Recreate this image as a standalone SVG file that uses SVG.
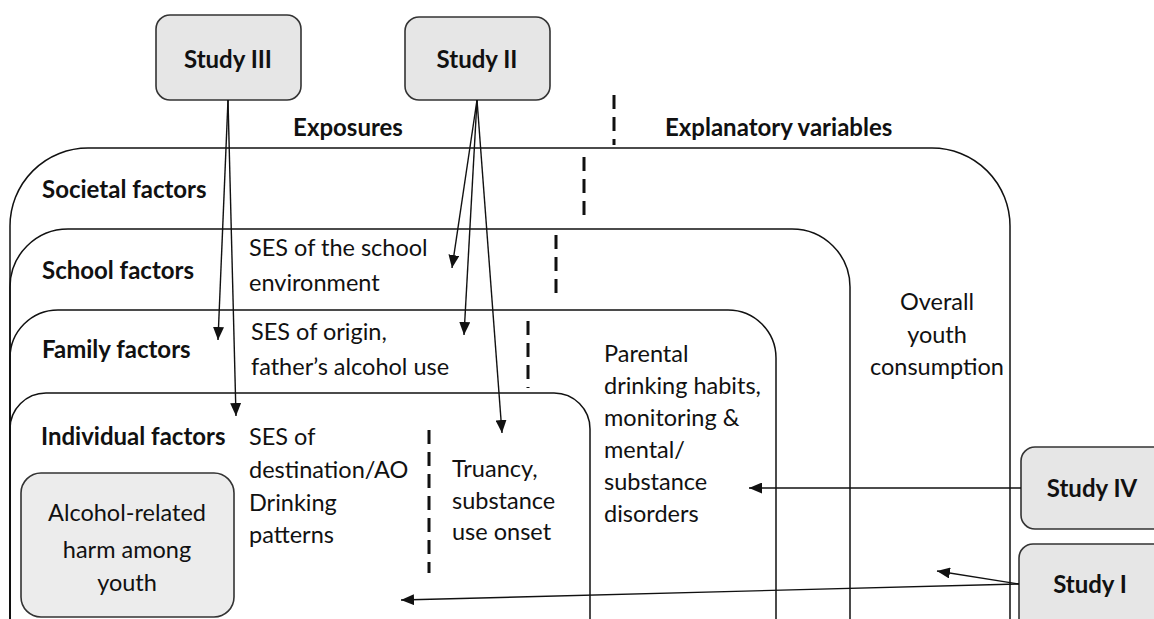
<svg xmlns="http://www.w3.org/2000/svg" width="1154" height="619" viewBox="0 0 1154 619">
<style>
text{font-family:Lato,"Open Sans","Liberation Sans",sans-serif;fill:#111;font-size:23.5px}
.b{font-weight:bold;font-size:24px}
.m{text-anchor:middle}
.frame{fill:none;stroke:#111;stroke-width:1.5}
.study{fill:#e6e6e6;stroke:#333;stroke-width:1.6}
.dash{stroke:#111;stroke-width:3;stroke-dasharray:14 8;fill:none}
.conn{stroke:#111;stroke-width:1.4;fill:none;marker-end:url(#ah)}
</style>
<defs>
<marker id="ah" markerUnits="userSpaceOnUse" markerWidth="13" markerHeight="11" refX="13" refY="5.5" orient="auto">
<path d="M0,0 L13,5.5 L0,11 z" fill="#111"/>
</marker>
</defs>
<rect width="1154" height="619" fill="#fff"/>

<g id="societal">
<path class="frame" d="M10,640 V226 A78,78 0 0 1 88,148 H932 A78,78 0 0 1 1010,226 V640"/>
<text class="b" x="42" y="198">Societal factors</text>
</g>
<g id="school">
<path class="frame" d="M10,640 V287 A58,58 0 0 1 68,229 H792 A58,58 0 0 1 850,287 V640"/>
<text class="b" x="42" y="279">School factors</text>
<text x="249" y="256">SES of the school</text>
<text x="249" y="291">environment</text>
</g>
<g id="family">
<path class="frame" d="M10,640 V358 A48,48 0 0 1 58,310 H728 A48,48 0 0 1 776,358 V640"/>
<text class="b" x="42" y="358">Family factors</text>
<text x="251" y="340">SES of origin,</text>
<text x="251" y="375">father’s alcohol use</text>
</g>
<g id="individual">
<path class="frame" d="M10,640 V429 A36,36 0 0 1 46,393 H554 A36,36 0 0 1 590,429 V640"/>
<text class="b" x="41" y="445">Individual factors</text>
<text x="249" y="445">SES of</text>
<text x="249" y="478">destination/AO</text>
<text x="249" y="511">Drinking</text>
<text x="249" y="543">patterns</text>
<text x="452" y="477">Truancy,</text>
<text x="452" y="509">substance</text>
<text x="452" y="540">use onset</text>
</g>
<g id="parental">
<text x="604" y="362">Parental</text>
<text x="604" y="394">drinking habits,</text>
<text x="604" y="426">monitoring &amp;</text>
<text x="604" y="458">mental/</text>
<text x="604" y="490">substance</text>
<text x="604" y="522">disorders</text>
</g>
<g id="overall">
<text class="m" x="937" y="310">Overall</text>
<text class="m" x="937" y="343">youth</text>
<text class="m" x="937" y="375">consumption</text>
</g>
<g id="outcome">
<rect x="21" y="473" width="213" height="144" rx="20" fill="#ececec" stroke="#333" stroke-width="1.6"/>
<text class="m" x="127" y="521">Alcohol-related</text>
<text class="m" x="127" y="558">harm among</text>
<text class="m" x="127" y="591">youth</text>
</g>
<g id="headings">
<text class="b m" x="348" y="136">Exposures</text>
<text class="b" x="665" y="136">Explanatory variables</text>
</g>
<g id="dividers">
<line class="dash" x1="614" y1="95" x2="614" y2="145"/>
<line class="dash" x1="584" y1="157" x2="584" y2="222"/>
<line class="dash" x1="556" y1="235" x2="556" y2="300"/>
<line class="dash" x1="528" y1="321" x2="528" y2="388"/>
<line class="dash" x1="429" y1="430" x2="429" y2="573"/>
</g>
<g id="study3">
<rect class="study" x="156" y="15" width="145" height="85" rx="14"/>
<text class="b m" x="228" y="68">Study III</text>
</g>
<g id="study2">
<rect class="study" x="405" y="17" width="145" height="83" rx="14"/>
<text class="b m" x="477" y="68">Study II</text>
</g>
<g id="study4">
<rect class="study" x="1021" y="447" width="150" height="82" rx="14"/>
<text class="b m" x="1092" y="497">Study IV</text>
</g>
<g id="study1">
<rect class="study" x="1019" y="544" width="150" height="100" rx="14"/>
<text class="b m" x="1090" y="593">Study I</text>
</g>
<g id="connectors">
<line class="conn" x1="228" y1="100" x2="218" y2="340"/>
<line class="conn" x1="228" y1="100" x2="236" y2="416"/>
<line class="conn" x1="477" y1="100" x2="452" y2="268"/>
<line class="conn" x1="477" y1="100" x2="464" y2="335"/>
<line class="conn" x1="477" y1="100" x2="502" y2="433"/>
<line class="conn" x1="1021" y1="488" x2="749" y2="488"/>
<line class="conn" x1="1019" y1="584" x2="937" y2="571"/>
<line class="conn" x1="1019" y1="584" x2="401" y2="600"/>
</g>
</svg>
